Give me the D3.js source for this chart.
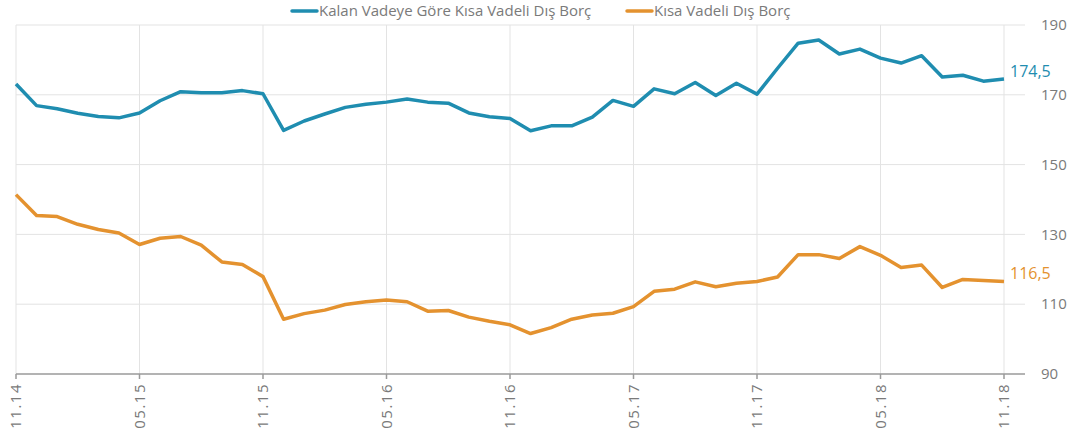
<!DOCTYPE html>
<html>
<head>
<meta charset="utf-8">
<script src="https://cdn.jsdelivr.net/npm/d3@7"></script>
<style>
  body { margin: 0; background: #fff; }
  text { font-family: "Open Sans", sans-serif; }
</style>
</head>
<body>
<div id="chart"></div>
<script>
// Veriler (aylık, 11.14 - 11.18)
const seriesNames = ["Kalan Vadeye Göre Kısa Vadeli Dış Borç", "Kısa Vadeli Dış Borç"];
const seriesColors = ["#1f8db0", "#e4922f"];
const kalanVade = [173.1, 166.9, 166.0, 164.7, 163.8, 163.4, 164.8, 168.3, 170.9, 170.6,
  170.6, 171.2, 170.3, 159.8, 162.5, 164.5, 166.4, 167.3, 167.9, 168.8,
  167.9, 167.6, 164.8, 163.7, 163.2, 159.7, 161.1, 161.1, 163.6, 168.4,
  166.7, 171.7, 170.3, 173.5, 169.8, 173.3, 170.2, 177.6, 184.8, 185.7,
  181.7, 183.1, 180.5, 179.1, 181.2, 175.1, 175.6, 173.9, 174.5];
const kisaVade = [141.4, 135.4, 135.1, 132.9, 131.4, 130.4, 127.1, 128.9, 129.4, 126.9,
  122.1, 121.4, 117.9, 105.7, 107.3, 108.3, 109.9, 110.7, 111.2, 110.7,
  108.0, 108.2, 106.3, 105.1, 104.1, 101.6, 103.3, 105.7, 106.9, 107.4,
  109.3, 113.7, 114.3, 116.4, 115.0, 116.0, 116.5, 117.8, 124.2, 124.2,
  123.1, 126.5, 124.0, 120.5, 121.2, 114.8, 117.1, 116.8, 116.5];
const endLabels = ["174,5", "116,5"];
const xTickLabels = ["11.14", "05.15", "11.15", "05.16", "11.16", "05.17", "11.17", "05.18", "11.18"];
const yTicks = [90, 110, 130, 150, 170, 190];

const width = 1075, height = 440;
const margin = {top: 25, right: 71, bottom: 66, left: 16};

const svg = d3.select("#chart").append("svg")
  .attr("width", width)
  .attr("height", height);

const x = d3.scaleLinear().domain([0, kalanVade.length - 1]).range([margin.left, 1004]);
const y = d3.scaleLinear().domain([90, 190]).range([height - margin.bottom, margin.top]);
const gridRight = 1025;

// yatay ızgara
svg.append("g").selectAll("line")
  .data(yTicks.filter(d => d != 90))
  .enter().append("line")
  .attr("x1", margin.left).attr("x2", gridRight)
  .attr("y1", d => y(d)).attr("y2", d => y(d))
  .attr("stroke", "#e3e3e3").attr("stroke-width", 1);

// dikey ızgara
const tickIdx = xTickLabels.map((d, i) => i * 6);
svg.append("g").selectAll("line")
  .data(tickIdx)
  .enter().append("line")
  .attr("x1", d => x(d)).attr("x2", d => x(d))
  .attr("y1", y(190)).attr("y2", y(90))
  .attr("stroke", "#e3e3e3").attr("stroke-width", 1);

// x ekseni
svg.append("line")
  .attr("x1", margin.left).attr("x2", gridRight)
  .attr("y1", y(90)).attr("y2", y(90))
  .attr("stroke", "#9a9a9a").attr("stroke-width", 1.5);

svg.append("g").selectAll("line")
  .data(tickIdx)
  .enter().append("line")
  .attr("x1", d => x(d)).attr("x2", d => x(d))
  .attr("y1", y(90)).attr("y2", y(90) + 5)
  .attr("stroke", "#9a9a9a").attr("stroke-width", 1.5);

svg.append("g").selectAll("text")
  .data(xTickLabels)
  .enter().append("text")
  .attr("transform", (d, i) => `translate(${x(i * 6)},${y(90) + 9}) rotate(-90)`)
  .attr("text-anchor", "end")
  .attr("dy", "0.35em")
  .attr("fill", "#7a7a7a")
  .style("font-size", "15px")
  .style("letter-spacing", "1.5px")
  .text(d => d);

// y ekseni etiketleri (sağda)
svg.append("g").selectAll("text")
  .data(yTicks)
  .enter().append("text")
  .attr("x", 1041)
  .attr("y", d => y(d))
  .attr("dy", "0.35em")
  .attr("fill", "#7a7a7a")
  .style("font-size", "15px")
  .text(d => d);

// çizgiler
const line = d3.line().x((d, i) => x(i)).y(d => y(d));
[kalanVade, kisaVade].forEach((s, k) => {
  svg.append("path")
    .datum(s)
    .attr("d", line)
    .attr("fill", "none")
    .attr("stroke", seriesColors[k])
    .attr("stroke-width", 3.5)
    .attr("stroke-linejoin", "round");

  svg.append("text")
    .attr("x", x(s.length - 1) + 6)
    .attr("y", y(s[s.length - 1]) - 8)
    .attr("dy", "0.35em")
    .attr("fill", seriesColors[k])
    .style("font-size", "16px")
    .text(endLabels[k]);
});

// lejant
const legendX = [292, 627];
seriesNames.forEach((n, k) => {
  const g = svg.append("g").attr("transform", `translate(${legendX[k]},11)`);
  g.append("line")
    .attr("x1", 0).attr("x2", 25)
    .attr("stroke", seriesColors[k]).attr("stroke-width", 3.5)
    .attr("stroke-linecap", "round");
  g.append("text")
    .attr("x", 27)
    .attr("dy", "0.35em")
    .attr("fill", "#7a7a7a")
    .style("font-size", "15px")
    .text(n);
});
</script>
</body>
</html>
